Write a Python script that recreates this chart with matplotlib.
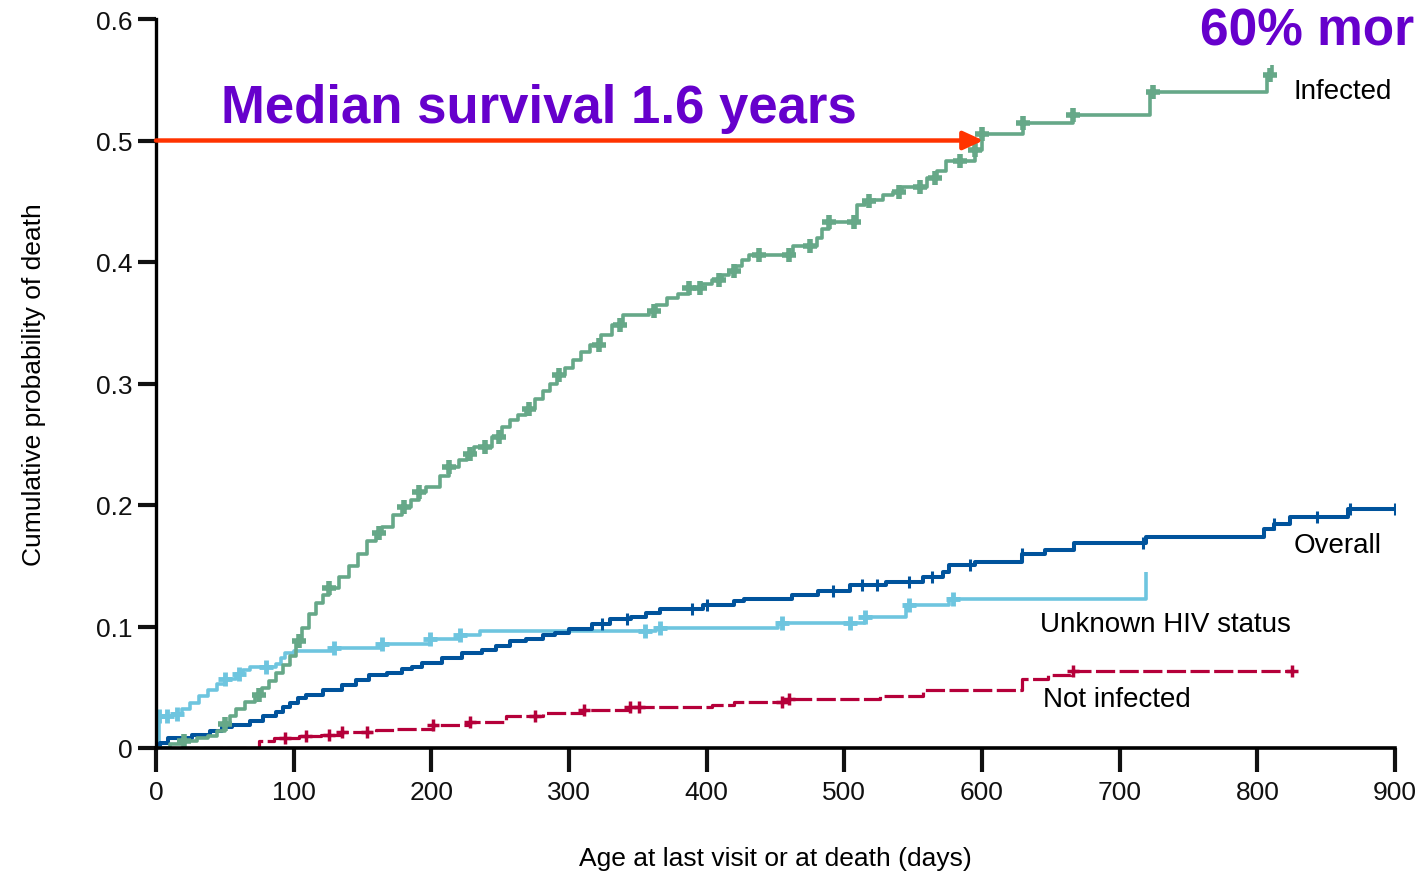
import matplotlib
matplotlib.use("Agg")
import matplotlib.pyplot as plt
import numpy as np

# Kaplan-Meier style cumulative probability of death
infected_days = [0, 10, 20, 30, 38, 44, 50, 54, 58, 65, 72, 77, 82, 87, 92, 97, 102, 106,
                 111, 116, 121, 126, 133, 140, 147, 153, 160, 164, 172, 179, 185, 191, 196,
                 206, 213, 220, 226, 231, 244, 251, 257, 263, 269, 275, 281, 286, 291, 297,
                 303, 309, 315, 323, 331, 339, 358, 363, 371, 379, 387, 396, 404, 411, 416,
                 421, 426, 431, 463, 480, 484, 489, 509, 515, 521, 528, 535, 542, 560, 567,
                 574, 595, 600, 630, 666, 722, 807, 811]
infected_prob = [0.0, 0.003, 0.006, 0.008, 0.010, 0.014, 0.020, 0.026, 0.032, 0.038, 0.044,
                 0.049, 0.055, 0.062, 0.068, 0.076, 0.088, 0.099, 0.110, 0.119, 0.126, 0.132,
                 0.141, 0.150, 0.160, 0.170, 0.177, 0.182, 0.192, 0.198, 0.204, 0.211, 0.215,
                 0.224, 0.231, 0.237, 0.242, 0.248, 0.256, 0.264, 0.270, 0.274, 0.279, 0.287,
                 0.294, 0.300, 0.307, 0.313, 0.319, 0.326, 0.332, 0.340, 0.348, 0.356, 0.360,
                 0.365, 0.370, 0.374, 0.379, 0.382, 0.385, 0.389, 0.393, 0.397, 0.402, 0.406,
                 0.413, 0.420, 0.427, 0.433, 0.447, 0.450, 0.451, 0.455, 0.458, 0.462, 0.469,
                 0.475, 0.483, 0.492, 0.505, 0.514, 0.521, 0.540, 0.554, 0.562]
infected_censor = [20, 50, 75, 104, 126, 162, 180, 191, 213, 228, 239, 249, 271, 293, 322,
                   337, 362, 387, 395, 409, 420, 438, 460, 475, 489, 507, 518, 540, 555, 566,
                   584, 595, 600, 630, 666, 724, 809]

overall_days = [0, 3, 9, 26, 39, 48, 55, 68, 78, 87, 92, 97, 103, 109, 121, 135, 145, 155,
                168, 179, 186, 193, 208, 222, 237, 247, 257, 269, 281, 290, 300, 317, 330,
                345, 356, 366, 397, 420, 427, 462, 481, 504, 530, 557, 572, 576, 595, 629,
                646, 667, 719, 805, 812, 824, 866, 900]
overall_prob = [0.0, 0.004, 0.008, 0.011, 0.014, 0.017, 0.019, 0.022, 0.026, 0.030, 0.034,
                0.037, 0.041, 0.044, 0.048, 0.052, 0.056, 0.060, 0.062, 0.065, 0.067, 0.070,
                0.074, 0.078, 0.081, 0.084, 0.088, 0.090, 0.093, 0.095, 0.098, 0.102, 0.106,
                0.108, 0.111, 0.114, 0.118, 0.121, 0.123, 0.126, 0.129, 0.134, 0.137, 0.141,
                0.145, 0.151, 0.153, 0.160, 0.163, 0.169, 0.174, 0.180, 0.184, 0.190, 0.197,
                0.197]
overall_censor = [324, 342, 389, 400, 492, 513, 524, 547, 564, 591, 629, 717, 812, 843, 867, 900]

unknown_days = [0, 2, 12, 19, 25, 31, 38, 44, 50, 58, 63, 68, 87, 91, 94, 100, 128, 164, 199,
                220, 235, 363, 452, 515, 545, 576, 719]
unknown_prob = [0.0, 0.026, 0.028, 0.032, 0.037, 0.043, 0.048, 0.053, 0.057, 0.061, 0.064,
                0.067, 0.069, 0.074, 0.078, 0.080, 0.082, 0.086, 0.090, 0.093, 0.096, 0.099,
                0.103, 0.108, 0.118, 0.123, 0.145]
unknown_censor = [2, 8, 15, 50, 60, 80, 129, 164, 199, 221, 355, 366, 455, 504, 515, 547, 579]

notinf_days = [0, 75, 86, 104, 120, 135, 160, 174, 201, 228, 254, 281, 311, 344, 404, 420,
               458, 526, 557, 629, 648, 665, 825]
notinf_prob = [0.0, 0.006, 0.008, 0.010, 0.011, 0.013, 0.015, 0.016, 0.019, 0.021, 0.026,
               0.029, 0.031, 0.034, 0.035, 0.038, 0.040, 0.043, 0.048, 0.057, 0.060, 0.063,
               0.063]
notinf_censor = [94, 109, 126, 135, 153, 201, 228, 275, 311, 344, 351, 455, 460, 666, 825]

x_ticks = [0, 100, 200, 300, 400, 500, 600, 700, 800, 900]
y_ticks = [0, 0.1, 0.2, 0.3, 0.4, 0.5, 0.6]
y_labels = ["0", "0.1", "0.2", "0.3", "0.4", "0.5", "0.6"]

GREEN = "#66A888"
BLUE = "#00539C"
LBLUE = "#6EC5DF"
RED = "#B5003A"
PURPLE = "#6600CC"
ARROW = "#FF3300"

plt.rcParams["font.family"] = ["Liberation Sans", "DejaVu Sans"]

fig = plt.figure(figsize=(14.24, 8.79), dpi=100)
ax = fig.add_axes([156 / 1424, 1 - 749 / 879, 1239 / 1424, 729 / 879])


def step_value(days, prob, t):
    i = np.searchsorted(days, t, side="right") - 1
    return np.asarray(prob)[np.clip(i, 0, len(prob) - 1)]


def draw_curve(days, prob, censor, color, lw, ms, mew, marker="+", **kw):
    ax.step(days, prob, where="post", color=color, lw=lw, solid_capstyle="butt", **kw)
    cy = step_value(days, prob, np.array(censor))
    ax.plot(censor, cy, linestyle="none", marker=marker, color=color,
            ms=ms, mew=mew)


draw_curve(notinf_days, notinf_prob, notinf_censor, RED, 2.3, 9, 2.5,
           dashes=(6, 1.4))
draw_curve(unknown_days, unknown_prob, unknown_censor, LBLUE, 2.6, 10, 3.5)
draw_curve(overall_days, overall_prob, overall_censor, BLUE, 2.9, 9, 2.2, marker="|")
draw_curve(infected_days, infected_prob, infected_censor, GREEN, 2.6, 10, 4.0)

ax.set_xlim(0, 900)
ax.set_ylim(0, 0.6)
ax.set_xticks(x_ticks)
ax.set_yticks(y_ticks)
ax.set_yticklabels(y_labels)
for s in ["top", "right"]:
    ax.spines[s].set_visible(False)
ax.spines["left"].set_linewidth(2.4)
ax.spines["bottom"].set_linewidth(2.6)
ax.spines["left"].set_bounds(0, 0.6)
ax.tick_params(axis="x", length=17, width=3, labelsize=19, pad=6, colors="#111111")
ax.tick_params(axis="y", length=13, width=3, labelsize=19, pad=4, colors="#111111")

ax.set_xlabel("Age at last visit or at death (days)", fontsize=19, labelpad=30)
ax.set_ylabel("Cumulative probability of death", fontsize=19, labelpad=36)

# curve labels
ax.text(826, 0.541, "Infected", fontsize=20, va="center", ha="left")
ax.text(826, 0.167, "Overall", fontsize=20, va="center", ha="left")
ax.text(642, 0.102, "Unknown HIV status", fontsize=20, va="center", ha="left")
ax.text(644, 0.040, "Not infected", fontsize=20, va="center", ha="left")

# median survival arrow
ax.annotate("", xy=(601, 0.5), xytext=(0, 0.5),
            arrowprops=dict(arrowstyle="-|>,head_length=1.2,head_width=0.55",
                            color=ARROW, lw=3.2, shrinkA=0, shrinkB=0),
            annotation_clip=False)

fig.text(221 / 1424, 1 - 123 / 879, "Median survival 1.6 years", fontsize=38,
         fontweight="bold", color=PURPLE, va="baseline", ha="left")
fig.text(1200 / 1424, 1 - 45 / 879, "60% mor", fontsize=37,
         fontweight="bold", color=PURPLE, va="baseline", ha="left")

fig.savefig("out.png", dpi=100)
